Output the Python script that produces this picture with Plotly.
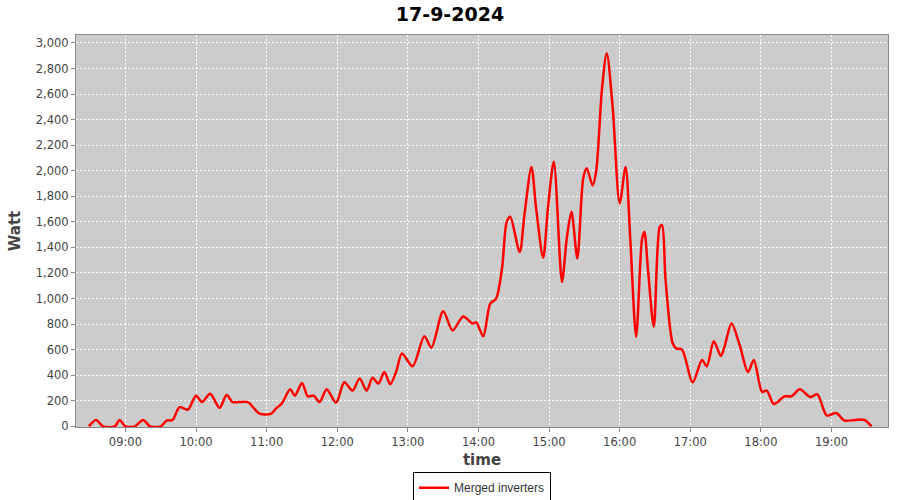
import plotly.graph_objects as go

# readings of the merged inverters on 17-9-2024
times = [
    "08:29", "08:35", "08:41", "08:51", "08:55", "09:00", "09:08", "09:15", "09:21", "09:30",
    "09:35", "09:40", "09:46", "09:53", "10:00", "10:05", "10:12", "10:20", "10:26", "10:31",
    "10:36", "10:44", "10:54", "11:04", "11:08", "11:13", "11:20", "11:24", "11:30", "11:35",
    "11:40", "11:45", "11:51", "11:59", "12:06", "12:13", "12:19", "12:25", "12:30", "12:35",
    "12:40", "12:45", "12:50", "12:55", "13:04", "13:14", "13:20", "13:30", "13:38", "13:47",
    "13:55", "13:58", "14:04", "14:10", "14:15", "14:20", "14:24", "14:27", "14:35", "14:39",
    "14:45", "14:49", "14:55", "14:59", "15:04", "15:11", "15:15", "15:19", "15:24", "15:29",
    "15:32", "15:37", "15:40", "15:45", "15:49", "15:54", "16:00", "16:05", "16:09", "16:14",
    "16:19", "16:21", "16:24", "16:29", "16:34", "16:36", "16:39", "16:45", "16:48", "16:53",
    "17:02", "17:10", "17:14", "17:20", "17:26", "17:29", "17:35", "17:42", "17:49", "17:54",
    "18:01", "18:05", "18:11", "18:20", "18:26", "18:33", "18:42", "18:48", "18:56", "19:04",
    "19:11", "19:20", "19:28", "19:34",
]
watts = [
    0, 50, 0, 0, 50, 0, 0, 50, 0, 0,
    45, 50, 150, 130, 240, 190, 255, 145, 245, 190,
    190, 190, 100, 100, 140, 180, 290, 240, 340, 235,
    240, 190, 290, 185, 345, 280, 375, 280, 380, 335,
    425, 330, 425, 570, 470, 705, 615, 900, 750, 860,
    805, 815, 705, 960, 1000, 1235, 1600, 1640, 1365, 1650,
    2030, 1705, 1320, 1705, 2070, 1130, 1470, 1680, 1315, 1940,
    2020, 1885, 1995, 2645, 2920, 2500, 1745, 2030, 1465, 700,
    1465, 1520, 1230, 780, 1560, 1575, 1145, 650, 610, 600,
    345, 520, 470, 665, 550, 620, 805, 635, 425, 520,
    270, 280, 175, 235, 235, 290, 230, 250, 85, 105,
    45, 50, 50, 0,
]

x = ["2024-09-17 " + t for t in times]

fig = go.Figure()
fig.add_trace(go.Scatter(
    x=x, y=watts, mode="lines", name="Merged inverters",
    line=dict(color="#ff0000", width=2.5, shape="spline", smoothing=0.8),
))

axis_font = dict(family="DejaVu Sans", size=11.5, color="#444444")

fig.update_layout(
    width=900, height=500,
    margin=dict(l=76, r=12, t=35, b=73, autoexpand=False),
    paper_bgcolor="white",
    plot_bgcolor="#cccccc",
    title=dict(text="<b>17-9-2024</b>", x=0.5, xanchor="center", y=0.971, yanchor="middle",
               font=dict(family="DejaVu Sans", size=19, color="black")),
    showlegend=True,
    legend=dict(orientation="h", x=0.5, xanchor="center", y=-0.155, yanchor="middle",
                bordercolor="black", borderwidth=1, bgcolor="white",
                font=dict(family="Liberation Sans", size=12, color="#333333")),
    xaxis=dict(
        title=dict(text="<b>time</b>", font=dict(family="DejaVu Sans", size=15, color="#444444"), standoff=6),
        type="date", automargin=False,
        range=["2024-09-17 08:18", "2024-09-17 19:48"],
        dtick=3600000, tick0="2024-09-17 09:00", tickformat="%H:%M",
        tickfont=axis_font,
        showgrid=True, gridcolor="white", griddash="2px,2px", gridwidth=1,
        showline=True, linecolor="#888888", linewidth=1, mirror=True,
        ticks="outside", ticklen=4, tickcolor="#888888",
        zeroline=False,
    ),
    yaxis=dict(
        title=dict(text="<b>Watt</b>", font=dict(family="DejaVu Sans", size=15, color="#444444"), standoff=11),
        range=[-5, 3062], automargin=False,
        tick0=0, dtick=200, tickformat=",d",
        tickfont=axis_font,
        showgrid=True, gridcolor="white", griddash="2px,2px", gridwidth=1,
        showline=True, linecolor="#888888", linewidth=1, mirror=True,
        ticks="outside", ticklen=4, tickcolor="#888888",
        zeroline=False,
    ),
)

# drop the default 8px page margin so the figure fills the window exactly
fig.write_html("out.html", config={"displayModeBar": False},
               post_script="document.body.style.margin = '0';")
